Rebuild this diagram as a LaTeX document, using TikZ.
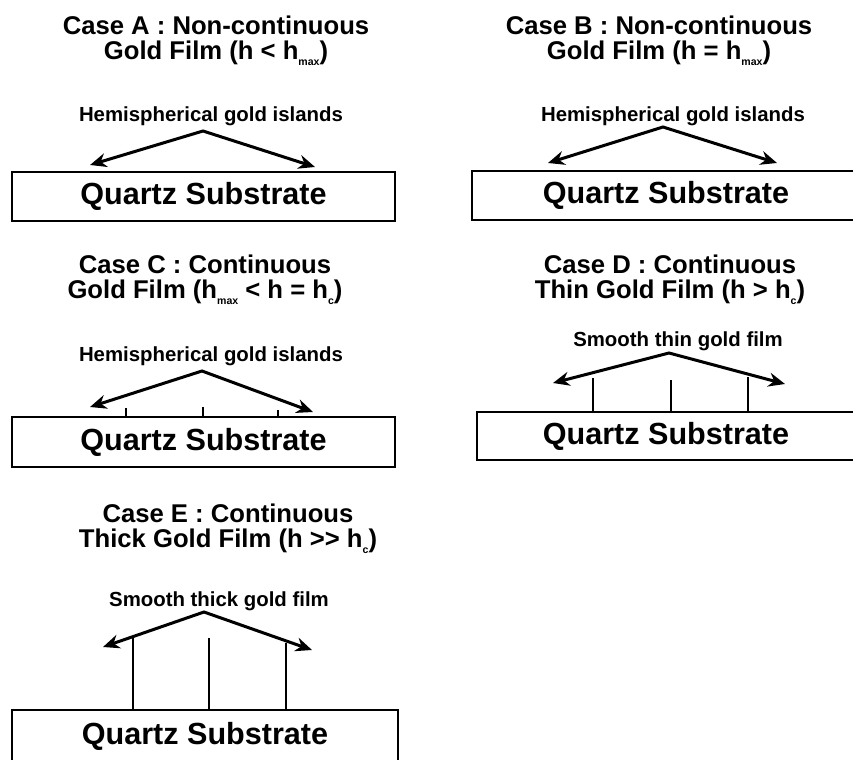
\documentclass[tikz,border=0pt]{standalone}
\usepackage{fontspec}
\setmainfont{Liberation Sans}
\usetikzlibrary{arrows.meta}

% small lowered index, as in h_max and h_c
\newcommand\hsub[1]{\raisebox{-0.45ex}{\fontsize{6pt}{6pt}\selectfont #1}}

\begin{document}
\begin{tikzpicture}[
    x=0.2mm, y=-0.2mm,
    substrate/.style={rectangle, draw=black, line width=0.4mm,
                      minimum height=9.8mm, inner sep=0pt,
                      font=\fontsize{17.4pt}{20pt}\selectfont\bfseries},
    casetitle/.style={align=center, inner sep=0pt,
                      font=\fontsize{14.6pt}{14pt}\selectfont\bfseries},
    filmlabel/.style={inner sep=0pt,
                      font=\fontsize{11.6pt}{13pt}\selectfont\bfseries},
    arr/.style={{Stealth[length=3.3mm,width=2.8mm]}-{Stealth[length=3.3mm,width=2.8mm]},
                line width=0.6mm, line join=miter},
    grain/.style={line width=0.35mm}
]
    \clip (0,0) rectangle (853,759);

    % Case A
    \node[substrate, minimum width=76.6mm] (subA) at (203.5,196.5) {Quartz Substrate};
    \node[casetitle] (titleA) at (216,41) {Case A : Non-continuous\\Gold Film (h < h\hsub{max})};
    \node[filmlabel] (lblA) at (211,116) {Hemispherical gold islands};
    \coordinate (peakA) at (203,131);
    \coordinate (leftA) at (90,165);
    \coordinate (rightA) at (315,167);
    \draw[arr] (leftA) -- (peakA) -- (rightA);

    % Case B
    \node[substrate, minimum width=77.6mm] (subB) at (666,195.5) {Quartz Substrate};
    \node[casetitle] (titleB) at (659,41) {Case B : Non-continuous\\Gold Film (h = h\hsub{max})};
    \node[filmlabel] (lblB) at (673,116) {Hemispherical gold islands};
    \coordinate (peakB) at (663,127);
    \coordinate (leftB) at (548,163);
    \coordinate (rightB) at (777,163);
    \draw[arr] (leftB) -- (peakB) -- (rightB);

    % Case C
    \node[substrate, minimum width=76.6mm, minimum height=10mm] (subC) at (203.5,442) {Quartz Substrate};
    \node[casetitle] (titleC) at (205,280) {Case C : Continuous\\Gold Film (h\hsub{max} < h = h\hsub{c})};
    \node[filmlabel] (lblC) at (211,356) {Hemispherical gold islands};
    \coordinate (peakC) at (202,371);
    \coordinate (leftC) at (90,407);
    \coordinate (rightC) at (313,412);
    \foreach \x/\t in {126/408, 203/407, 278/410}
        \draw[grain] (\x,\t) -- (\x,\t |- subC.north);
    \draw[arr] (leftC) -- (peakC) -- (rightC);

    % Case D
    \node[substrate, minimum width=75.6mm, minimum height=9.6mm] (subD) at (666,436) {Quartz Substrate};
    \node[casetitle] (titleD) at (670,280) {Case D : Continuous\\Thin Gold Film (h > h\hsub{c})};
    \node[filmlabel] (lblD) at (678,341) {Smooth thin gold film};
    \coordinate (peakD) at (669,353);
    \coordinate (leftD) at (553,383);
    \coordinate (rightD) at (785,384);
    \foreach \x/\t in {593/378, 671/380, 748/377}
        \draw[grain] (\x,\t) -- (\x,\t |- subD.north);
    \draw[arr] (leftD) -- (peakD) -- (rightD);

    % Case E
    \node[substrate, minimum width=77.2mm, minimum height=10.4mm] (subE) at (205,736) {Quartz Substrate};
    \node[casetitle] (titleE) at (228,529) {Case E : Continuous\\Thick Gold Film (h >{}> h\hsub{c})};
    \node[filmlabel] (lblE) at (219,601) {Smooth thick gold film};
    \coordinate (peakE) at (204,612);
    \coordinate (leftE) at (103,647);
    \coordinate (rightE) at (312,650);
    \foreach \x/\t in {133/637, 209/638, 286/643}
        \draw[grain] (\x,\t) -- (\x,\t |- subE.north);
    \draw[arr] (leftE) -- (peakE) -- (rightE);
\end{tikzpicture}
\end{document}
